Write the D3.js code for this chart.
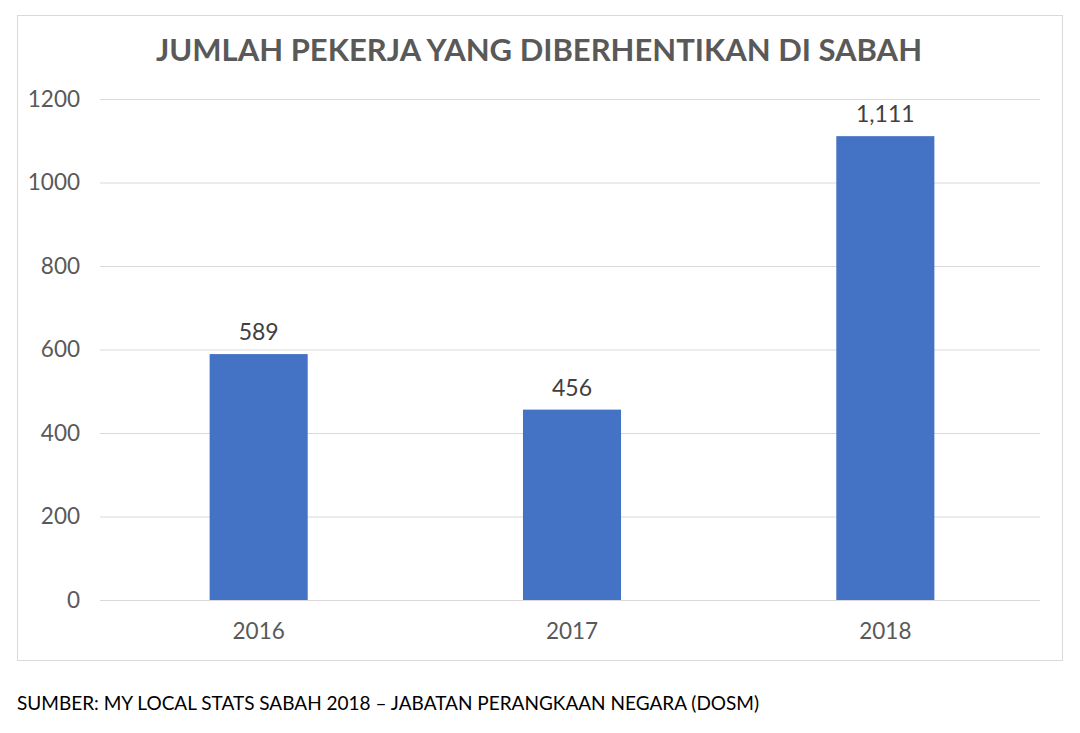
<!DOCTYPE html>
<html><head><meta charset="utf-8">
<script src="https://cdn.jsdelivr.net/npm/d3@7"></script>
<style>body{margin:0;background:#fff;}svg{display:block;}</style>
</head><body>
<svg id="c" width="1080" height="733"></svg>
<script>
const years = ["2016", "2017", "2018"];
const values = [589, 456, 1111];
const yTicks = [0, 200, 400, 600, 800, 1000, 1200];
const titleText = "JUMLAH PEKERJA YANG DIBERHENTIKAN DI SABAH";
const sourceText = "SUMBER: MY LOCAL STATS SABAH 2018 \u2013 JABATAN PERANGKAAN NEGARA (DOSM)";

(function () {
const svg = d3.select("#c");
const font = "Lato, 'Open Sans', sans-serif";
const pLeft = 100, pRight = 1040, pTop = 99, pBottom = 600;

svg.append("rect").attr("x", 17.5).attr("y", 15.5).attr("width", 1045).attr("height", 645)
  .attr("fill", "#fff").attr("stroke", "#d9d9d9").attr("stroke-width", 1);

const x = d3.scaleBand().domain(years).range([pLeft + 2, pRight + 2]).paddingInner(0.687).paddingOuter(0.3435);
const y = d3.scaleLinear().domain([0, 1200]).range([pBottom, pTop]);

const yAxis = d3.axisLeft(y).tickValues(yTicks).tickSize(-(pRight - pLeft)).tickPadding(20).tickFormat(d3.format("d"));
const gy = svg.append("g").attr("transform", `translate(${pLeft},0)`).call(yAxis);
gy.select(".domain").remove();
gy.selectAll(".tick line").attr("stroke", "#d9d9d9").attr("stroke-width", 1.2);
gy.selectAll(".tick text").attr("fill", "#595959").attr("font-family", font).attr("font-size", 22.5);

const xAxis = d3.axisBottom(x).tickSize(0).tickPadding(23);
const gx = svg.append("g").attr("transform", `translate(0,${pBottom})`).call(xAxis);
gx.select(".domain").remove();
gx.selectAll(".tick text").attr("fill", "#595959").attr("font-family", font).attr("font-size", 22.5);

svg.selectAll("rect.bar").data(values).join("rect").attr("class", "bar")
  .attr("x", (d, i) => x(years[i])).attr("width", x.bandwidth())
  .attr("y", d => y(d)).attr("height", d => y(0) - y(d)).attr("fill", "#4472c4");

svg.selectAll("text.lbl").data(values).join("text").attr("class", "lbl")
  .attr("x", (d, i) => x(years[i]) + x.bandwidth() / 2).attr("y", d => y(d) - 14)
  .attr("text-anchor", "middle").attr("fill", "#404040").attr("font-family", font).attr("font-size", 23)
  .text(d => d3.format(",")(d));

svg.append("text").attr("x", 539).attr("y", 61).attr("text-anchor", "middle")
  .attr("fill", "#595959").attr("font-family", font).attr("font-weight", "bold").attr("font-size", 31)
  .text(titleText);

svg.append("text").attr("x", 17).attr("y", 710).attr("fill", "#000").attr("font-family", font).attr("font-size", 19)
  .text(sourceText);
})();
</script>
</body></html>
